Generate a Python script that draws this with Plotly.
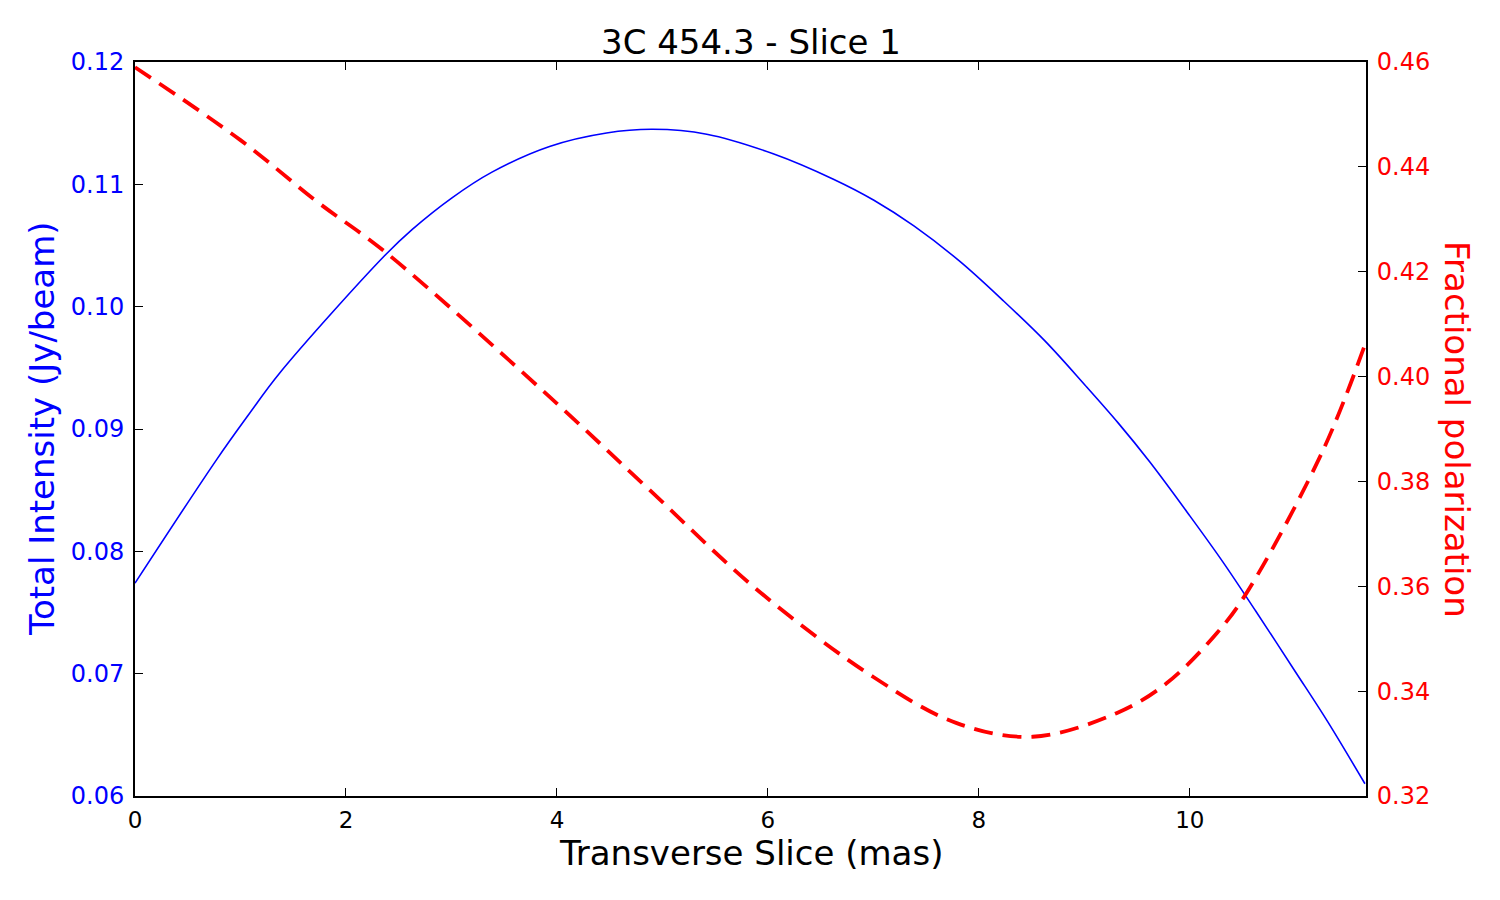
import plotly.graph_objects as go

# Total intensity (blue, left axis)
x_intensity = [0.0, 0.774, 1.071, 1.374, 2.37, 2.626, 3.005, 3.384, 3.93, 4.47, 4.91,
               5.42, 6.05, 6.626, 7.005, 7.384, 7.82, 8.23, 8.626, 9.005, 9.32, 9.621,
               10.0, 10.316, 10.626, 11.005, 11.305, 11.66]
intensity = [0.0774, 0.0875, 0.0911, 0.0946, 0.1042, 0.1063, 0.1089, 0.1110, 0.1131, 0.1142,
             0.1145, 0.1141, 0.1125, 0.1104, 0.1087, 0.1066, 0.1037, 0.1005, 0.0972, 0.0936,
             0.0905, 0.0873, 0.0829, 0.0791, 0.0751, 0.0701, 0.0661, 0.0610]

# Fractional polarization (red dashed, right axis)
x_pol = [0.0, 1.0, 1.73, 2.37, 3.91, 4.85, 5.90, 7.00, 7.79, 8.51, 9.305, 9.779, 10.253,
         10.537, 11.264, 11.664]
polarization = [0.459, 0.4451, 0.4333, 0.4238, 0.3965, 0.3789, 0.3593, 0.3427, 0.3339, 0.3313,
                0.3358, 0.3415, 0.3510, 0.3587, 0.3860, 0.4063]

x_ticks = [0, 2, 4, 6, 8, 10]
left_ticks = [0.06, 0.07, 0.08, 0.09, 0.10, 0.11, 0.12]
right_ticks = [0.32, 0.34, 0.36, 0.38, 0.40, 0.42, 0.44, 0.46]

FONT = "DejaVu Sans"
XTICK = 23
YTICK = 24
TITLE = 34

fig = go.Figure()
fig.add_trace(go.Scatter(x=x_intensity, y=intensity, mode="lines",
                         line=dict(color="blue", width=1.6, shape="spline", smoothing=1.0),
                         yaxis="y", showlegend=False))
fig.add_trace(go.Scatter(x=x_pol, y=polarization, mode="lines",
                         line=dict(color="red", width=3.8, dash="19px,10px", shape="spline",
                                   smoothing=1.0),
                         yaxis="y2", showlegend=False))

fig.update_layout(
    width=1500, height=900,
    margin=dict(l=135, r=134, t=62, b=104),
    paper_bgcolor="white", plot_bgcolor="white",
    font=dict(family=FONT, size=XTICK, color="black"),
    xaxis=dict(range=[0, 11.67], tickvals=x_ticks, ticks="inside", ticklen=8, tickwidth=1,
               tickcolor="black", showgrid=False, zeroline=False, showline=True,
               linecolor="black", linewidth=2, mirror="ticks",
               tickfont=dict(size=XTICK, color="black"), ticklabelstandoff=2),
    yaxis=dict(range=[0.06, 0.12], tickvals=left_ticks, tickformat=".2f", ticks="inside",
               ticklen=8, tickcolor="black", showgrid=False, zeroline=False, showline=True,
               linecolor="black", linewidth=2, tickfont=dict(size=YTICK, color="blue"),
               ticklabelstandoff=4),
    yaxis2=dict(range=[0.32, 0.46], tickvals=right_ticks, tickformat=".2f", ticks="inside",
                ticklen=8, tickcolor="black", overlaying="y", side="right", showgrid=False,
                zeroline=False, showline=True, linecolor="black", linewidth=2,
                tickfont=dict(size=YTICK, color="red"), ticklabelstandoff=4),
    annotations=[
        dict(text="3C 454.3 - Slice 1", xref="paper", yref="paper", x=0.5,
             y=1 + (62 - 42) / 734, xanchor="center", yanchor="middle",
             showarrow=False, font=dict(size=TITLE, color="black")),
        dict(text="Transverse Slice (mas)", xref="paper", yref="paper", x=0.5,
             y=-(853 - 796) / 734, xanchor="center", yanchor="middle",
             showarrow=False, font=dict(size=TITLE, color="black")),
        dict(text="Total Intensity (Jy/beam)", xref="paper", yref="paper",
             x=-(135 - 42) / 1231, y=0.5, xanchor="center", yanchor="middle", textangle=-90,
             showarrow=False, font=dict(size=TITLE, color="blue")),
        dict(text="Fractional polarization", xref="paper", yref="paper",
             x=1 + (1457 - 1366) / 1231, y=0.5, xanchor="center", yanchor="middle",
             textangle=90, showarrow=False, font=dict(size=TITLE, color="red")),
    ],
)

fig.write_html("out.html")
